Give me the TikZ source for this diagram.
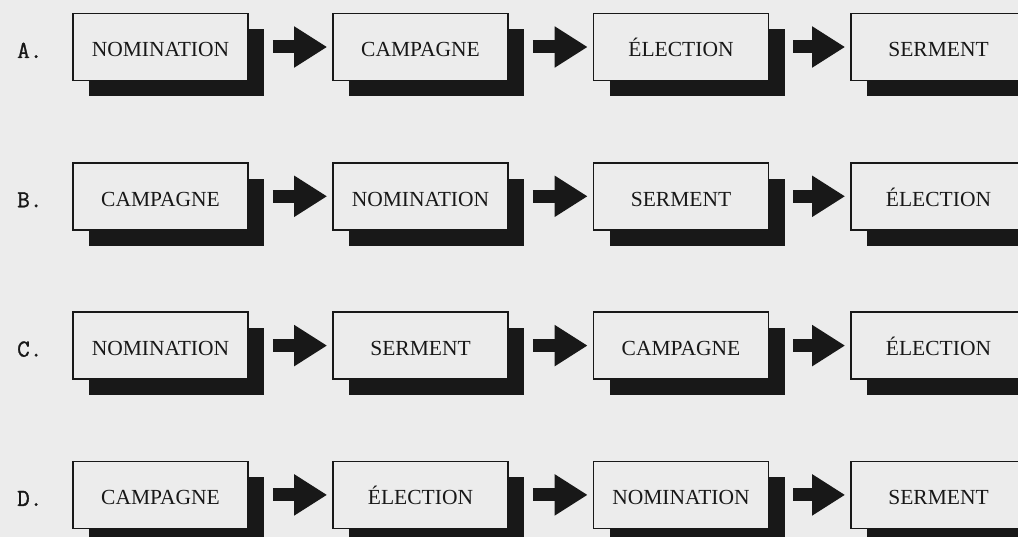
\documentclass[tikz,border=0pt]{standalone}
\usepackage{fontspec}
\setmainfont{Liberation Serif}
\newfontfamily\rowlabelfont[FakeBold=1.2]{Latin Modern Mono}
\usetikzlibrary{shadows,arrows.meta}
\definecolor{bg}{RGB}{236,236,236}
\definecolor{ink}{RGB}{24,24,24}
\begin{document}
\begin{tikzpicture}[x=1pt,y=-1pt,
  stagebox/.style={draw=ink, line width=1.7pt, fill=bg, minimum width=175pt,
    minimum height=67pt, inner sep=0pt, text height=20pt, text depth=0pt,
    font=\fontsize{21.5}{21.5}\selectfont, text=ink,
    drop shadow={shadow xshift=16pt, shadow yshift=-16pt, fill=ink, opacity=1}},
  rowlabel/.style={anchor=base west, inner sep=0pt,
    font=\rowlabelfont\fontsize{24.5}{24.5}\selectfont, text=ink},
  blockarrow/.style={line width=13pt, draw=ink, line cap=butt,
    -{Triangle[length=33pt,width=39pt]}, shorten <=24pt, shorten >=5pt}]
\useasboundingbox (0,0) rectangle (1018,537);
\clip (0,0) rectangle (1018,537);
\fill[bg] (0,0) rectangle (1018,537);
\foreach \r/\lab/\a/\b/\c/\d in {
  0/A/NOMINATION/CAMPAGNE/ÉLECTION/SERMENT,
  1/B/CAMPAGNE/NOMINATION/SERMENT/ÉLECTION,
  2/C/NOMINATION/SERMENT/CAMPAGNE/ÉLECTION,
  3/D/CAMPAGNE/ÉLECTION/NOMINATION/SERMENT}{
  \pgfmathsetmacro\yc{47+149.3*\r}
  \node[rowlabel] (L\r) at (17,\yc+11) {\lab.};
  \node[stagebox] (b\r a) at (160.5,\yc) {\a};
  \node[stagebox] (b\r b) at (420.5,\yc) {\b};
  \node[stagebox] (b\r c) at (681,\yc) {\c};
  \node[stagebox] (b\r d) at (938.5,\yc) {\d};
  \draw[blockarrow] (b\r a.east) -- (b\r b.west);
  \draw[blockarrow] (b\r b.east) -- (b\r c.west);
  \draw[blockarrow] (b\r c.east) -- (b\r d.west);
}
\end{tikzpicture}
\end{document}
